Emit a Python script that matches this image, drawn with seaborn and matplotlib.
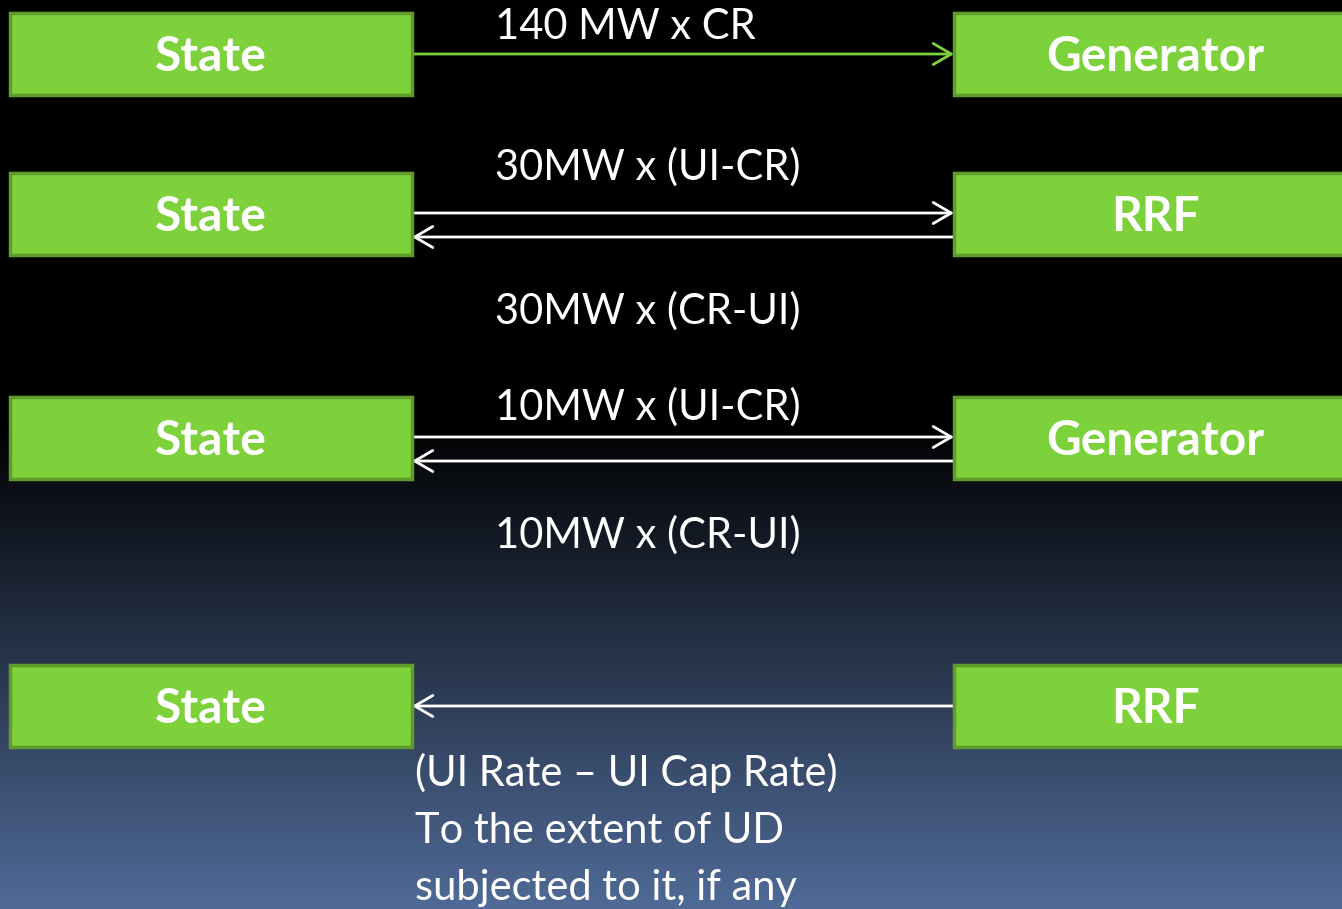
import numpy as np
import matplotlib
matplotlib.use("Agg")
import matplotlib.pyplot as plt
from matplotlib.patches import Rectangle, ArrowStyle
import seaborn as sns

# --- Diagram content ---
left_nodes = ["State", "State", "State", "State"]
right_nodes = ["Generator", "RRF", "Generator", "RRF"]
upper_labels = ["140 MW x CR", "30MW x (UI-CR)", "10MW x (UI-CR)", ""]
lower_labels = ["", "30MW x (CR-UI)", "10MW x (CR-UI)", ""]
forward_flow = [True, True, True, False]   # State -> right node
backward_flow = [False, True, True, True]  # right node -> State
note_lines = ["(UI Rate \u2013 UI Cap Rate)", "To the extent of UD", "subjected to it, if any"]

# --- Layout (pixels) ---
W, H = 1342, 909
row_top = [13, 173, 397, 665]
upper_base = [39, 180, 420, 0]     # baselines of labels above the arrows
lower_base = [0, 324, 548, 0]      # baselines of labels below the arrows
box_h = 82
left_x, right_x, box_w = 10, 954, 402
green = "#7dd13b"
green_edge = "#5f9b2d"

sns.set_style("dark")
plt.rcParams["font.family"] = ["Lato", "DejaVu Sans"]

fig = plt.figure(figsize=(W / 100, H / 100), dpi=100)
ax = fig.add_axes([0, 0, 1, 1])
ax.set_xlim(0, W)
ax.set_ylim(H, 0)
ax.axis("off")

# background: black fading to slate blue towards the bottom
y = np.arange(H)
t = np.clip((y - 420) / (H - 420), 0, 1)
top_c = np.array([0, 0, 0])
bot_c = np.array([80, 107, 152]) / 255
grad = top_c[None, :] * (1 - t[:, None]) + bot_c[None, :] * t[:, None]
ax.imshow(grad[:, None, :], extent=[0, W, H, 0], aspect="auto", zorder=0)

def arrow(x0, x1, yy, color):
    style = ArrowStyle("->", head_length=0.65, head_width=0.38)
    ax.annotate("", xy=(x1, yy), xytext=(x0, yy),
                arrowprops=dict(arrowstyle=style, color=color, lw=2.0,
                                shrinkA=0, shrinkB=0, mutation_scale=20),
                zorder=2)

for i, top in enumerate(row_top):
    cy = top + box_h / 2
    for bx, name in [(left_x, left_nodes[i]), (right_x, right_nodes[i])]:
        ax.add_patch(Rectangle((bx, top), box_w, box_h, facecolor=green,
                               edgecolor=green_edge, lw=2.5, zorder=3))
        ax.text(bx + box_w / 2, cy + 17, name, color="white", fontsize=34.5,
                fontweight="bold", ha="center", va="baseline", zorder=4)

    if forward_flow[i] and backward_flow[i]:
        arrow(left_x + box_w, right_x, cy - 1, "white")
        arrow(right_x, left_x + box_w, cy + 23, "white")
    elif forward_flow[i]:
        arrow(left_x + box_w, right_x, cy, green)
    else:
        arrow(right_x, left_x + box_w, cy, "white")

    if upper_labels[i]:
        ax.text(495, upper_base[i], upper_labels[i], color="white", fontsize=30,
                ha="left", va="baseline")
    if lower_labels[i]:
        ax.text(495, lower_base[i], lower_labels[i], color="white", fontsize=30,
                ha="left", va="baseline")

for k, line in enumerate(note_lines):
    ax.text(415, 786 + 57 * k, line, color="white", fontsize=30,
            ha="left", va="baseline")

fig.savefig("out.png", dpi=100)
